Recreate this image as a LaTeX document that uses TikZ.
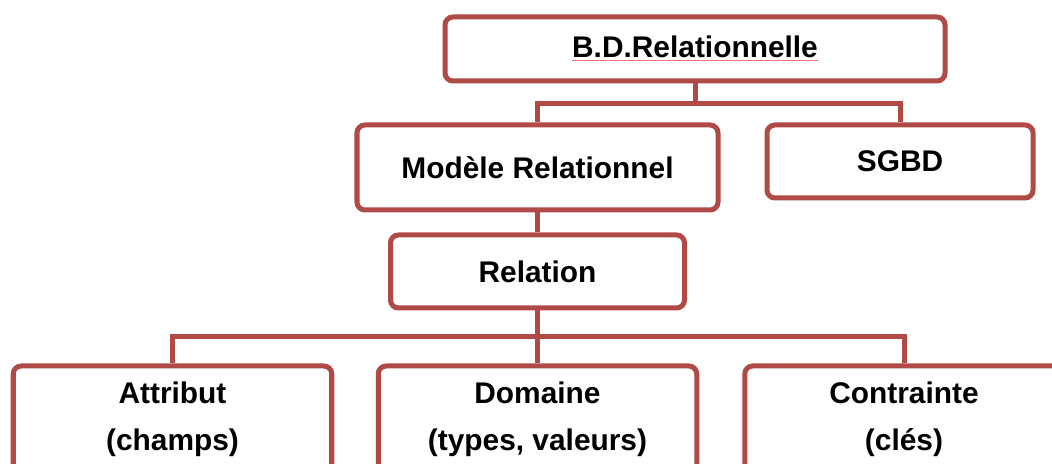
\documentclass[tikz,border=0pt]{standalone}
\usepackage{fontspec}
\setmainfont{Liberation Sans}
\usepackage{tikz}
\usetikzlibrary{positioning,calc}
\definecolor{boxred}{RGB}{176,74,71}
\definecolor{spellred}{RGB}{235,120,120}

\begin{document}
\begin{tikzpicture}[
  font=\bfseries\fontsize{17}{26.6}\selectfont,
  box/.style={draw=boxred, line width=2.85pt, rounded corners=4.5pt, rectangle, fill=white, align=center, inner sep=0pt},
  leaf/.style={box, minimum width=6.37cm, minimum height=2.12cm},
  link/.style={draw=boxred, line width=2.85pt}
]
\useasboundingbox (0,0) rectangle (21.04,-9.28);
\clip (0,0) rectangle (21.04,-9.28);

\node[box, minimum width=10cm, minimum height=1.28cm] (bdr) at (13.9,-0.98) {{\color{spellred}\underline{\textcolor{black}{B.D.Relationnelle}}}};
\node[box, minimum width=7.22cm, minimum height=1.70cm] (modele) at (10.75,-3.35) {Modèle Relationnel};
\node[box, minimum width=5.32cm, minimum height=1.46cm] (sgbd) at (18.0,-3.23) {SGBD};
\node[box, minimum width=5.88cm, minimum height=1.46cm] (relation) at (10.75,-5.43) {Relation};
\node[leaf] (attribut) at (3.45,-8.38) {Attribut\\(champs)};
\node[leaf] (domaine) at (10.75,-8.38) {Domaine\\(types, valeurs)};
\node[leaf] (contrainte) at (18.08,-8.38) {Contrainte\\(clés)};

\coordinate (bdrsplit) at (13.9,-2.08);
\coordinate (relsplit) at (10.75,-6.74);
\draw[link] (bdr.south) -- (bdrsplit);
\draw[link] (bdrsplit) -| (modele.north);
\draw[link] (bdrsplit) -| (sgbd.north);
\draw[link] (modele.south) -- (relation.north);
\draw[link] (relation.south) -- (relsplit);
\draw[link] (relsplit) -| (attribut.north);
\draw[link] (relsplit) -- (domaine.north);
\draw[link] (relsplit) -| (contrainte.north);
\end{tikzpicture}
\end{document}
